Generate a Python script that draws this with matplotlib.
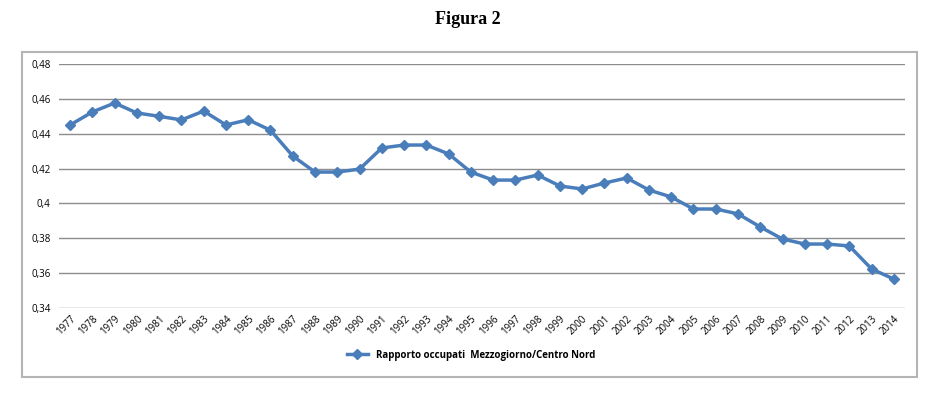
import matplotlib.pyplot as plt
from matplotlib.patches import Rectangle
from matplotlib.ticker import FuncFormatter

# dati (Figura 2)
anni = [str(a) for a in range(1977, 2015)]
rapporto = [0.445, 0.4525, 0.4576, 0.4519, 0.450, 0.4479, 0.453, 0.445, 0.448, 0.442,
            0.4272, 0.418, 0.418, 0.4197, 0.4318, 0.4335, 0.4335, 0.4284, 0.418, 0.4134,
            0.4134, 0.4163, 0.410, 0.4083, 0.4117, 0.4146, 0.4077, 0.4037, 0.3968, 0.3968,
            0.394, 0.3865, 0.3796, 0.3767, 0.3767, 0.3756, 0.3624, 0.3566]
yticks = [0.34, 0.36, 0.38, 0.40, 0.42, 0.44, 0.46, 0.48]

plt.rcParams['font.family'] = ['Open Sans', 'DejaVu Sans']

fig = plt.figure(figsize=(9.41, 3.96), dpi=100)
ax = fig.add_axes([0.0627, 0.2222, 0.899, 0.6162])

# cornice del grafico
fig.patches.append(Rectangle((22/941, 1-377/396), (917-22)/941, (377-52)/396,
                             transform=fig.transFigure, fill=False,
                             edgecolor='#b4b4b4', linewidth=1.5))

fig.text(0.497, 0.95, 'Figura 2', ha='center', va='center', fontsize=13,
         fontweight='bold', family='Liberation Serif')

x = range(len(anni))
ax.plot(x, rapporto, color='#4a7ebb', linewidth=2.5, marker='D', markersize=5,
        label='Rapporto occupati  Mezzogiorno/Centro Nord')

ax.set_xlim(-0.5, len(anni) - 0.5)
ax.set_ylim(0.34, 0.48)
ax.set_yticks(yticks)
ax.yaxis.set_major_formatter(FuncFormatter(lambda v, p: ('%g' % round(v, 2)).replace('.', ',')))
ax.set_xticks(list(x))
ax.set_xticklabels(anni, rotation=45, ha='right', rotation_mode='anchor', fontsize=7)
ax.tick_params(axis='y', labelsize=7, length=0, pad=6)
ax.tick_params(axis='x', length=0, pad=4)
ax.grid(axis='y', color='#8c8c8c', linewidth=1)
ax.set_axisbelow(True)
for s in ax.spines.values():
    s.set_visible(False)

leg = ax.legend(loc='center', bbox_to_anchor=(0.487, -0.193), frameon=False,
                prop={'size': 7, 'weight': 'bold'}, handlelength=2.2)

fig.savefig('out.png', dpi=100)
